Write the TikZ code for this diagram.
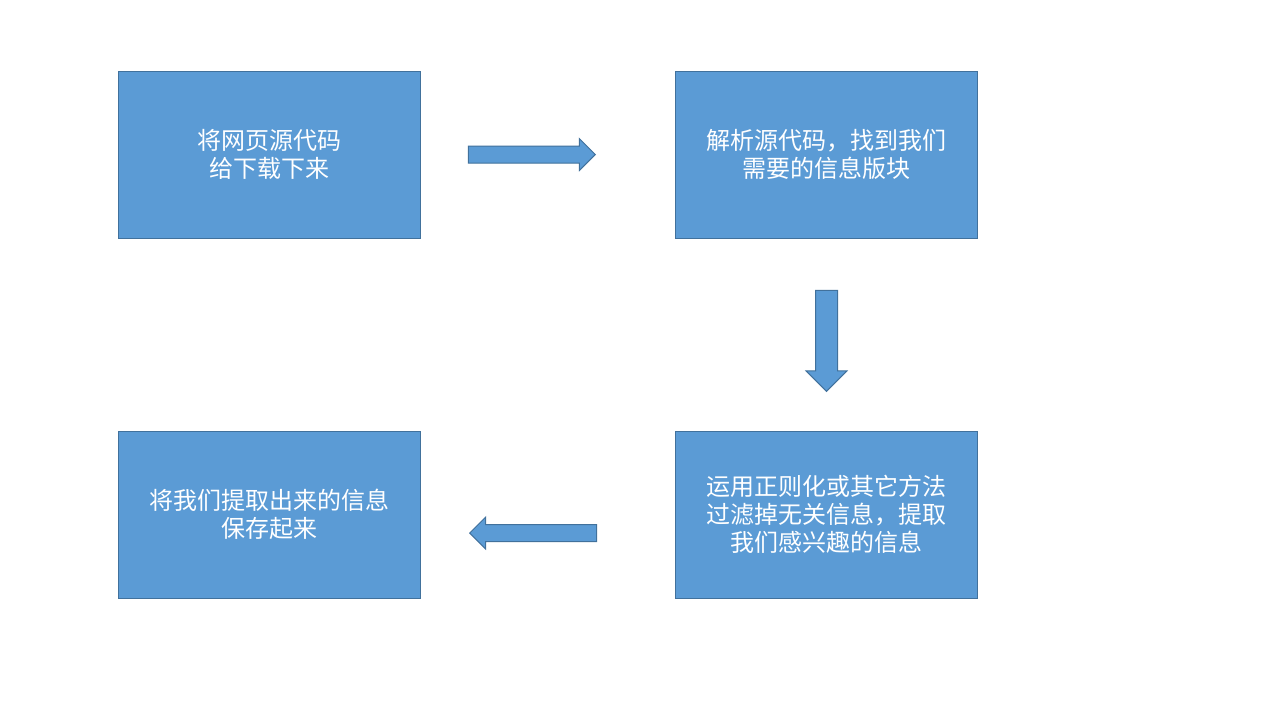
\documentclass[tikz,border=0pt]{standalone}
\usepackage{fontspec}
\newfontfamily\cjk{Noto Sans CJK SC}
\usetikzlibrary{shapes.arrows}
\definecolor{boxfill}{HTML}{5B9BD5}
\definecolor{boxline}{HTML}{41719C}
\tikzset{
  stepbox/.style={draw=boxline, fill=boxfill, line width=0.5pt, minimum width=151pt,
    minimum height=83.5pt, align=center, text=white, font=\cjk\fontsize{12}{14}\selectfont},
  blockarrow/.style={single arrow, draw=boxline, fill=boxfill, line width=0.5pt,
    inner sep=4pt, single arrow head extend=3.75pt, single arrow tip angle=90,
    minimum height=#1, anchor=tip}
}
\begin{document}
\begin{tikzpicture}[x=0.5pt, y=-0.5pt]
\useasboundingbox[fill=white] (0,0) rectangle (1280,720);
% the four steps
\node[stepbox] (fetch) at (269,154.5) {将网页源代码\\给下载下来};
\node[stepbox] (parse) at (826.5,154.5) {解析源代码，找到我们\\需要的信息版块};
\node[stepbox] (filter) at (826.5,514.5) {运用正则化或其它方法\\过滤掉无关信息，提取\\我们感兴趣的信息};
\node[stepbox] (save) at (269,514.5) {将我们提取出来的信息\\保存起来};
% arrows between them, placed by their tips
\node[blockarrow=63.5pt] (a1) at (596,154.5) {};
\node[blockarrow=50.5pt, inner sep=5.25pt, single arrow head extend=4.75pt,
  shape border rotate=270] (a2) at (826.5,392) {};
\node[blockarrow=63.5pt, shape border rotate=180] (a3) at (469,533) {};
\end{tikzpicture}
\end{document}
